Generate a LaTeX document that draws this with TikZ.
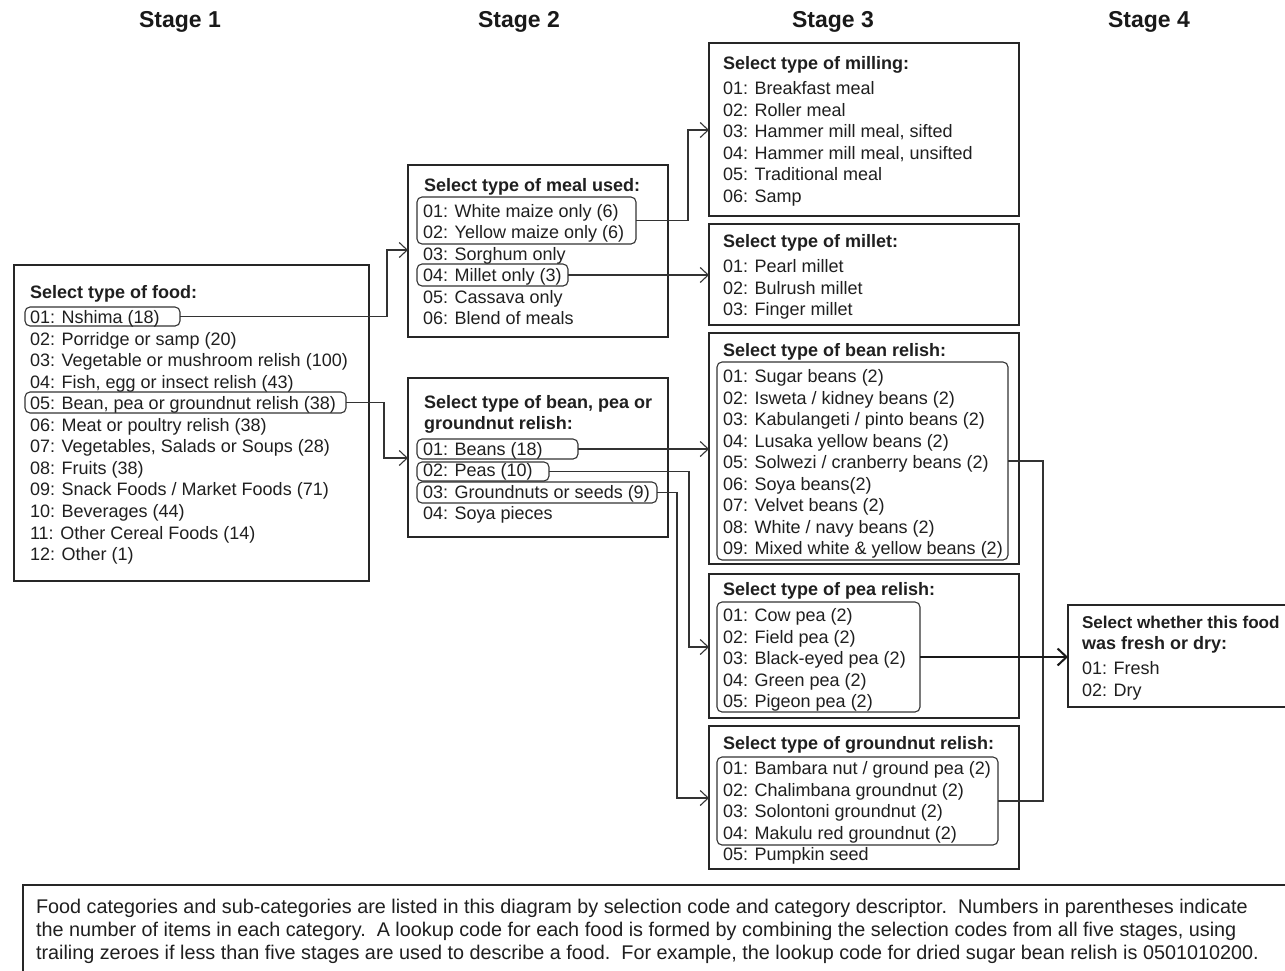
\documentclass[tikz,border=0pt]{standalone}
\usepackage{fontspec}
\setmainfont{Liberation Sans}
\usetikzlibrary{arrows.meta}
\begin{document}
\begin{tikzpicture}[x=1pt,y=-1pt,
  every node/.style={inner sep=0pt, outer sep=0pt},
  box/.style={draw=black!85, line width=1.4pt, anchor=north west},
  hl/.style={draw=black!80, line width=1.1pt, rounded corners=5pt, anchor=north west},
  item/.style={anchor=base west, yshift=-6.5pt, text=black!88, font=\fontsize{18}{21.6}\selectfont},
  head/.style={item, font=\fontsize{18}{21.6}\selectfont\bfseries},
  stage/.style={anchor=base, yshift=-8.2pt, text=black!90, font=\fontsize{23}{27}\selectfont\bfseries},
  captext/.style={anchor=base west, yshift=-7pt, text=black!88, font=\fontsize{19.8}{23}\selectfont},
  conn/.style={draw=black!80, line width=1.1pt, -{Straight Barb[length=8pt,width=15pt,line width=1.1pt]}},
  mainconn/.style={draw=black!90, line width=2pt, -{Straight Barb[length=9pt,width=17pt,line width=2pt]}},
  plain/.style={draw=black!80, line width=1.1pt},
]
\useasboundingbox (0,0) rectangle (1285,970);
\clip (0,0) rectangle (1285,970);
\fill[white] (0,0) rectangle (1285,970);

% stage titles
\node[stage] (st1) at (180,19) {Stage 1};
\node[stage] (st2) at (519,19) {Stage 2};
\node[stage] (st3) at (833,19) {Stage 3};
\node[stage] (st4) at (1149,19) {Stage 4};

% boxes
\node[box, minimum width=355pt, minimum height=316pt] (boxA) at (14,265) {};
\node[box, minimum width=260pt, minimum height=172pt] (boxB) at (408,165) {};
\node[box, minimum width=260pt, minimum height=159pt] (boxC) at (408,378) {};
\node[box, minimum width=310pt, minimum height=173pt] (boxD) at (709,43) {};
\node[box, minimum width=310pt, minimum height=101pt] (boxE) at (709,224) {};
\node[box, minimum width=310pt, minimum height=231pt] (boxF) at (709,333) {};
\node[box, minimum width=310pt, minimum height=144pt] (boxG) at (709,574) {};
\node[box, minimum width=310pt, minimum height=143pt] (boxH) at (709,726) {};
\node[box, minimum width=240pt, minimum height=102pt] (boxI) at (1068,605) {};
\node[box, line width=2.6pt, minimum width=1290pt, minimum height=110pt] (boxN) at (23,885) {};

% highlight frames
\node[hl, minimum width=155pt, minimum height=19pt] (hlA1) at (25,307) {};
\node[hl, minimum width=321pt, minimum height=21pt] (hlA5) at (25,392) {};
\node[hl, minimum width=219pt, minimum height=47pt] (hlB12) at (417,197) {};
\node[hl, minimum width=151pt, minimum height=22pt] (hlB4) at (417,264) {};
\node[hl, minimum width=161pt, minimum height=20pt] (hlC1) at (417,439) {};
\node[hl, minimum width=132pt, minimum height=19pt] (hlC2) at (417,462) {};
\node[hl, minimum width=240pt, minimum height=21pt] (hlC3) at (417,482) {};
\node[hl, minimum width=291pt, minimum height=198pt] (hlF) at (717,362) {};
\node[hl, minimum width=203pt, minimum height=110pt] (hlG) at (717,602) {};
\node[hl, minimum width=281pt, minimum height=88pt] (hlH) at (717,757) {};

% Stage 1
\node[head] (Ah) at (30,292) {Select type of food:};
\foreach \txt [count=\i from 0] in {{01: Nshima (18)},{02: Porridge or samp (20)},{03: Vegetable or mushroom relish (100)},{04: Fish, egg or insect relish (43)},{05: Bean, pea or groundnut relish (38)},{06: Meat or poultry relish (38)},{07: Vegetables, Salads or Soups (28)},{08: Fruits (38)},{09: Snack Foods / Market Foods (71)},{10: Beverages (44)},{11: Other Cereal Foods (14)},{12: Other (1)}}
  \node[item] (A\i) at (30,{317+21.55*\i}) {\txt};

% Stage 2: meal
\node[head] (Bh) at (424,185) {Select type of meal used:};
\foreach \txt [count=\i from 0] in {{01: White maize only (6)},{02: Yellow maize only (6)},{03: Sorghum only},{04: Millet only (3)},{05: Cassava only},{06: Blend of meals}}
  \node[item] (B\i) at (423,{210.5+21.5*\i}) {\txt};

% Stage 2: bean pea groundnut
\node[head] (Ch1) at (424,402) {Select type of bean, pea or};
\node[head] (Ch2) at (424,423) {groundnut relish:};
\foreach \txt [count=\i from 0] in {{01: Beans (18)},{02: Peas (10)},{03: Groundnuts or seeds (9)},{04: Soya pieces}}
  \node[item] (C\i) at (423,{449+21.3*\i}) {\txt};

% Stage 3: milling
\node[head] (Dh) at (723,63) {Select type of milling:};
\foreach \txt [count=\i from 0] in {{01: Breakfast meal},{02: Roller meal},{03: Hammer mill meal, sifted},{04: Hammer mill meal, unsifted},{05: Traditional meal},{06: Samp}}
  \node[item] (D\i) at (723,{88.3+21.5*\i}) {\txt};

% Stage 3: millet
\node[head] (Eh) at (723,240.5) {Select type of millet:};
\foreach \txt [count=\i from 0] in {{01: Pearl millet},{02: Bulrush millet},{03: Finger millet}}
  \node[item] (E\i) at (723,{266+21.5*\i}) {\txt};

% Stage 3: bean relish
\node[head] (Fh) at (723,350) {Select type of bean relish:};
\foreach \txt [count=\i from 0] in {{01: Sugar beans (2)},{02: Isweta / kidney beans (2)},{03: Kabulangeti / pinto beans (2)},{04: Lusaka yellow beans (2)},{05: Solwezi / cranberry beans (2)},{06: Soya beans(2)},{07: Velvet beans (2)},{08: White / navy beans (2)},{09: Mixed white \& yellow beans (2)}}
  \node[item] (F\i) at (723,{376+21.5*\i}) {\txt};

% Stage 3: pea relish
\node[head] (Gh) at (723,589) {Select type of pea relish:};
\foreach \txt [count=\i from 0] in {{01: Cow pea (2)},{02: Field pea (2)},{03: Black-eyed pea (2)},{04: Green pea (2)},{05: Pigeon pea (2)}}
  \node[item] (G\i) at (723,{615+21.5*\i}) {\txt};

% Stage 3: groundnut relish
\node[head] (Hh) at (723,743) {Select type of groundnut relish:};
\foreach \txt [count=\i from 0] in {{01: Bambara nut / ground pea (2)},{02: Chalimbana groundnut (2)},{03: Solontoni groundnut (2)},{04: Makulu red groundnut (2)},{05: Pumpkin seed}}
  \node[item] (H\i) at (723,{768+21.5*\i}) {\txt};

% Stage 4
\node[head, font=\fontsize{17.1}{21.6}\selectfont\bfseries] (Ih1) at (1082,622) {Select whether this food};
\node[head] (Ih2) at (1082,643) {was fresh or dry:};
\node[item] (I0) at (1082,668) {01: Fresh};
\node[item] (I1) at (1082,690) {02: Dry};

% caption
\node[captext] (N1) at (36,906) {Food categories and sub-categories are listed in this diagram by selection code and category descriptor.\ \ Numbers in parentheses indicate};
\node[captext] (N2) at (36,929) {the number of items in each category.\ \ A lookup code for each food is formed by combining the selection codes from all five stages, using};
\node[captext] (N3) at (36,952) {trailing zeroes if less than five stages are used to describe a food.\ \ For example, the lookup code for dried sugar bean relish is 0501010200.};

% connector bend points
\coordinate (jA1) at (387,250);
\coordinate (jA5) at (384,458);
\coordinate (jB12) at (688,130);
\coordinate (jC2) at (689,647);
\coordinate (jC3) at (677,798);
\coordinate (jcol) at (1043,630);

% connectors
\draw[conn] (hlA1.east) -| (jA1) -- (jA1 -| boxB.west);
\draw[conn] (hlA5.east) -| (jA5) -- (jA5 -| boxC.west);
\draw[conn] (hlB12.east) -| (jB12) -- (jB12 -| boxD.west);
\draw[conn] (hlB4.east) -- (hlB4.east -| boxE.west);
\draw[conn] (hlC1.east) -- (hlC1.east -| boxF.west);
\draw[conn] (hlC2.east) -| (jC2) -- (jC2 -| boxG.west);
\draw[conn] (hlC3.east) -| (jC3) -- (jC3 -| boxH.west);
\draw[plain] (hlF.east) -| (jcol) |- (hlH.east);
\draw[mainconn] (hlG.east) -- (hlG.east -| boxI.west);
\end{tikzpicture}
\end{document}
